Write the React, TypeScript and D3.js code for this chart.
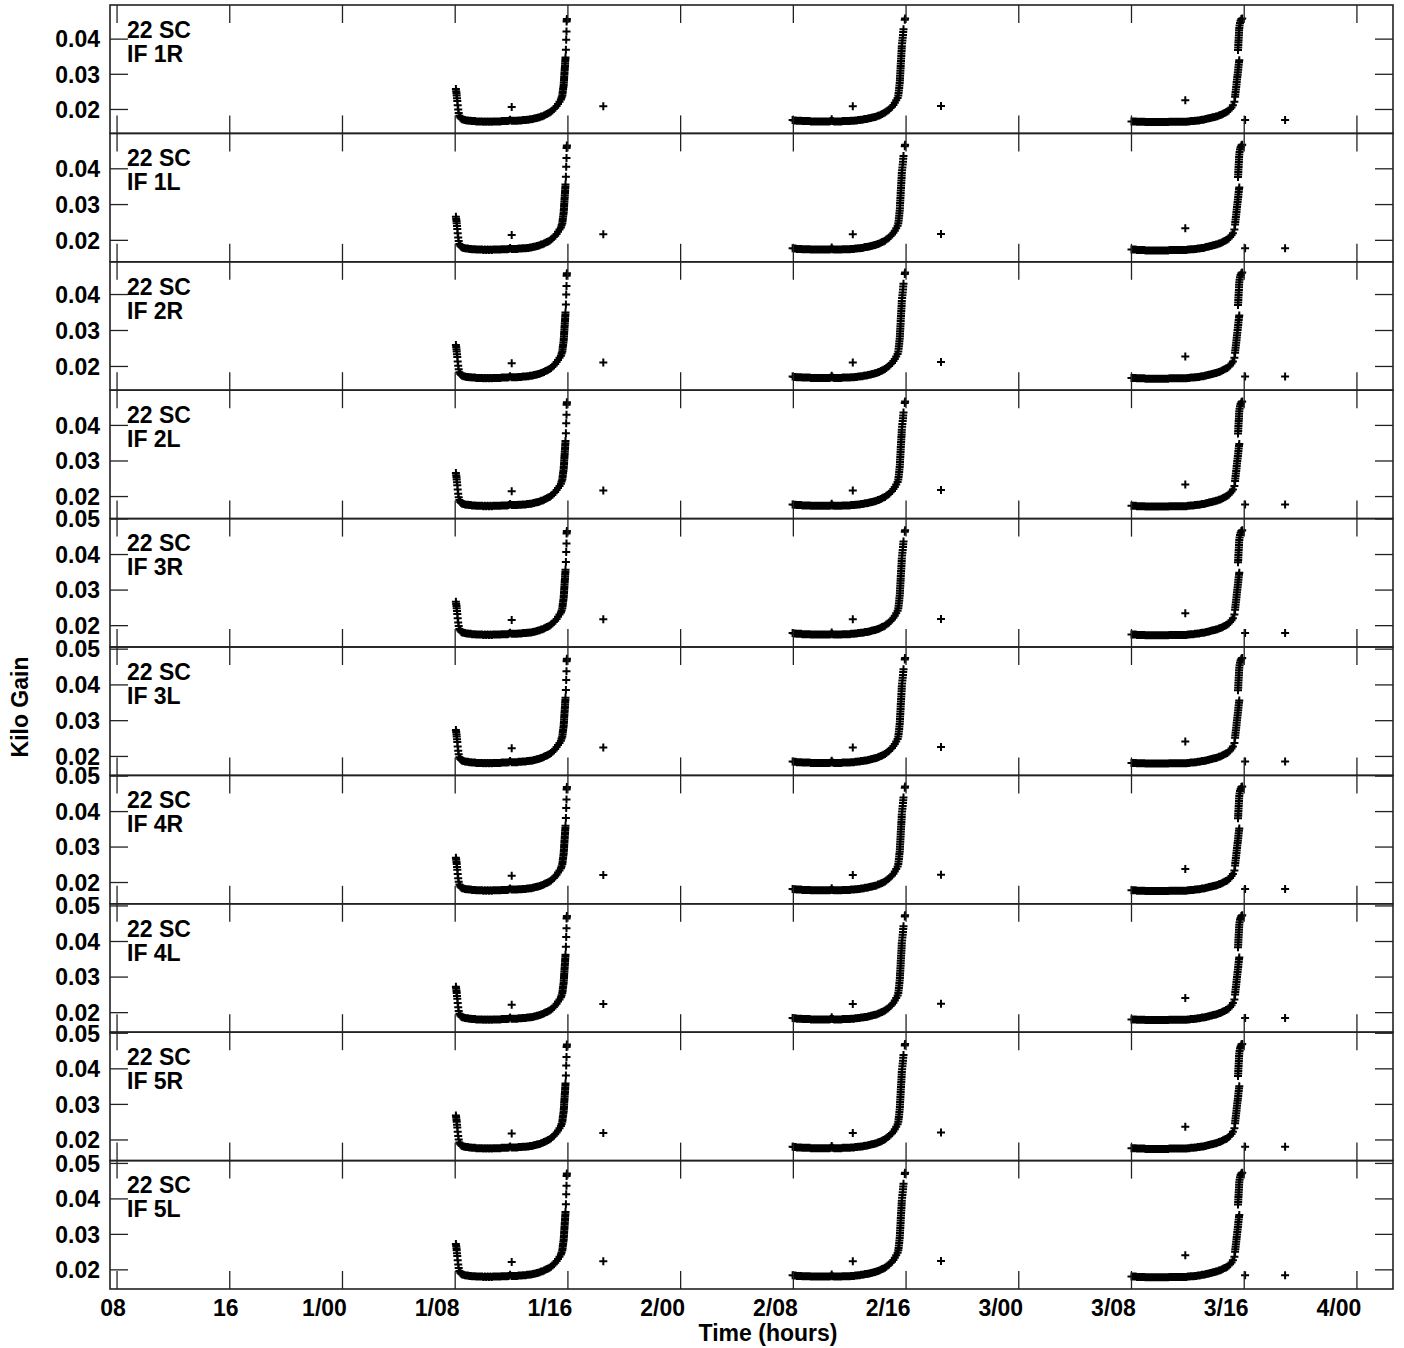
import React from 'react';
import * as d3 from 'd3';

const W = 1404;
const H = 1348;

const antennaLabel = '22 SC';
const panelLabels = ['IF 1R', 'IF 1L', 'IF 2R', 'IF 2L', 'IF 3R', 'IF 3L', 'IF 4R', 'IF 4L', 'IF 5R', 'IF 5L'];
const yMins = [0.0132, 0.0140, 0.0134, 0.0138, 0.0140, 0.0147, 0.0140, 0.0145, 0.0142, 0.0146];
const yMaxs = [0.0497, 0.0499, 0.0491, 0.0499, 0.0501, 0.0506, 0.0502, 0.0506, 0.0503, 0.0508];
const panelOffsets = [0, 0.0008, 0.0002, 0.0008, 0.0009, 0.0016, 0.0012, 0.0015, 0.0011, 0.0015];
const yTickValues = [0.02, 0.03, 0.04, 0.05];
const xDomain = [7.5, 98.56];
const xTickHours = [8, 16, 24, 32, 40, 48, 56, 64, 72, 80, 88, 96];
const xTickLabels = ['08', '16', '1/00', '1/08', '1/16', '2/00', '2/08', '2/16', '3/00', '3/08', '3/16', '4/00'];

// [hours, gain]
const seg1: [number, number][] = [
  [32.05, 0.0258], [32.07, 0.0252], [32.09, 0.0246], [32.11, 0.0240], [32.13, 0.0232], [32.15, 0.0224], [32.18, 0.0212],
  [32.21, 0.0200], [32.25, 0.0190], [32.30, 0.0182], [32.36, 0.0177], [32.43, 0.0174], [32.50, 0.0172], [32.6, 0.0171],
  [32.7, 0.0170], [32.8, 0.0169], [32.9, 0.0169], [33.0, 0.0168], [33.1, 0.0168], [33.2, 0.0167], [33.3, 0.0167],
  [33.4, 0.0167], [33.5, 0.0166], [33.6, 0.0166], [33.7, 0.0166], [33.8, 0.0166], [33.9, 0.0166], [34.0, 0.0165],
  [34.1, 0.0166], [34.2, 0.0165], [34.3, 0.0166], [34.4, 0.0165], [34.5, 0.0166], [34.6, 0.0165], [34.7, 0.0166],
  [34.8, 0.0166], [34.9, 0.0166], [35.0, 0.0166], [35.1, 0.0166], [35.2, 0.0166], [35.3, 0.0167], [35.4, 0.0167],
  [35.5, 0.0167], [35.6, 0.0167], [35.7, 0.0167], [35.8, 0.0168], [35.9, 0.0171], [36.0, 0.0168], [36.1, 0.0168],
  [36.2, 0.0168], [36.3, 0.0168], [36.4, 0.0168], [36.5, 0.0169], [36.6, 0.0169], [36.7, 0.0169], [36.8, 0.0170],
  [36.9, 0.0170], [37.0, 0.0170], [37.1, 0.0171], [37.2, 0.0171], [37.3, 0.0172], [37.4, 0.0172], [37.5, 0.0173],
  [37.6, 0.0174], [37.7, 0.0175], [37.8, 0.0176], [37.9, 0.0177], [38.0, 0.0178], [38.1, 0.0180], [38.2, 0.0181],
  [38.3, 0.0183], [38.4, 0.0185], [38.5, 0.0187], [38.6, 0.0189], [38.7, 0.0191], [38.8, 0.0194], [38.9, 0.0197],
  [39.0, 0.0201], [39.1, 0.0205], [39.2, 0.0210], [39.3, 0.0216], [39.4, 0.0222], [39.5, 0.0228], [39.55, 0.0234],
  [39.6, 0.0240], [39.62, 0.0246], [39.64, 0.0252], [39.66, 0.0258], [39.68, 0.0264], [39.70, 0.0270], [39.71, 0.0276],
  [39.72, 0.0282], [39.73, 0.0288], [39.74, 0.0294], [39.75, 0.0300], [39.76, 0.0306], [39.77, 0.0312], [39.78, 0.0318],
  [39.79, 0.0324], [39.80, 0.0330], [39.81, 0.0336], [39.82, 0.0342], [39.83, 0.0348], [39.86, 0.0370], [39.88, 0.0398],
  [39.90, 0.0422], [39.91, 0.0450], [39.92, 0.0454], [39.93, 0.0457],
];

const seg2: [number, number][] = [
  [55.95, 0.0170], [56.05, 0.0169], [56.15, 0.0169], [56.25, 0.0168], [56.35, 0.0168], [56.45, 0.0168], [56.55, 0.0168],
  [56.65, 0.0167], [56.75, 0.0167], [56.85, 0.0167], [56.95, 0.0167], [57.05, 0.0167], [57.15, 0.0167], [57.25, 0.0166],
  [57.35, 0.0166], [57.45, 0.0166], [57.55, 0.0166], [57.65, 0.0166], [57.75, 0.0166], [57.85, 0.0166], [57.95, 0.0166],
  [58.05, 0.0166], [58.15, 0.0166], [58.25, 0.0166], [58.35, 0.0166], [58.45, 0.0166], [58.55, 0.0166], [58.65, 0.0167],
  [58.72, 0.0172], [58.80, 0.0167], [58.90, 0.0166], [59.00, 0.0166], [59.10, 0.0166], [59.20, 0.0166], [59.30, 0.0166],
  [59.40, 0.0166], [59.50, 0.0167], [59.60, 0.0167], [59.70, 0.0167], [59.80, 0.0167], [59.90, 0.0167], [60.00, 0.0167],
  [60.10, 0.0168], [60.20, 0.0168], [60.30, 0.0168], [60.40, 0.0169], [60.50, 0.0169], [60.60, 0.0170], [60.70, 0.0170],
  [60.80, 0.0171], [60.90, 0.0171], [61.00, 0.0172], [61.10, 0.0173], [61.20, 0.0173], [61.30, 0.0174], [61.40, 0.0175],
  [61.50, 0.0176], [61.60, 0.0177], [61.70, 0.0178], [61.80, 0.0179], [61.90, 0.0180], [62.00, 0.0182], [62.10, 0.0183],
  [62.20, 0.0185], [62.30, 0.0187], [62.40, 0.0189], [62.50, 0.0191], [62.60, 0.0194], [62.70, 0.0197], [62.80, 0.0200],
  [62.90, 0.0204], [63.00, 0.0208], [63.10, 0.0213], [63.20, 0.0219], [63.30, 0.0226], [63.40, 0.0233], [63.45, 0.0240],
  [63.47, 0.0247], [63.49, 0.0254], [63.51, 0.0261], [63.53, 0.0268], [63.55, 0.0275], [63.56, 0.0282], [63.57, 0.0289],
  [63.58, 0.0296], [63.59, 0.0303], [63.60, 0.0310], [63.61, 0.0317], [63.62, 0.0324], [63.63, 0.0331], [63.64, 0.0338],
  [63.65, 0.0345], [63.66, 0.0352], [63.67, 0.0359], [63.68, 0.0366], [63.69, 0.0373], [63.70, 0.0380], [63.72, 0.0388],
  [63.74, 0.0396], [63.76, 0.0404], [63.78, 0.0412], [63.80, 0.0420], [63.82, 0.0428], [63.91, 0.0455], [63.93, 0.0459],
];

const seg3: [number, number][] = [
  [80.00, 0.0166], [80.10, 0.0166], [80.20, 0.0166], [80.30, 0.0166], [80.40, 0.0165], [80.50, 0.0165], [80.60, 0.0165],
  [80.70, 0.0165], [80.80, 0.0165], [80.90, 0.0165], [81.00, 0.0164], [81.10, 0.0164], [81.20, 0.0164], [81.30, 0.0164],
  [81.40, 0.0164], [81.50, 0.0164], [81.60, 0.0164], [81.70, 0.0164], [81.80, 0.0164], [81.90, 0.0164], [82.00, 0.0164],
  [82.10, 0.0164], [82.20, 0.0164], [82.30, 0.0164], [82.40, 0.0164], [82.50, 0.0164], [82.60, 0.0164], [82.70, 0.0165],
  [82.80, 0.0165], [82.90, 0.0165], [83.00, 0.0165], [83.10, 0.0165], [83.20, 0.0165], [83.30, 0.0165], [83.40, 0.0165],
  [83.50, 0.0165], [83.60, 0.0165], [83.70, 0.0165], [83.80, 0.0165], [83.90, 0.0165], [84.00, 0.0166], [84.10, 0.0166],
  [84.20, 0.0167], [84.30, 0.0167], [84.40, 0.0167], [84.50, 0.0168], [84.60, 0.0168], [84.70, 0.0169], [84.80, 0.0169],
  [84.90, 0.0170], [85.00, 0.0171], [85.10, 0.0171], [85.20, 0.0172], [85.30, 0.0173], [85.40, 0.0174], [85.50, 0.0175],
  [85.60, 0.0176], [85.70, 0.0177], [85.80, 0.0178], [85.90, 0.0179], [86.00, 0.0180], [86.10, 0.0181], [86.20, 0.0183],
  [86.30, 0.0184], [86.40, 0.0186], [86.50, 0.0188], [86.60, 0.0190], [86.70, 0.0192], [86.80, 0.0194], [86.90, 0.0197],
  [87.00, 0.0201], [87.10, 0.0206], [87.20, 0.0212], [87.30, 0.0222], [87.35, 0.0236], [87.37, 0.0243], [87.39, 0.0250],
  [87.41, 0.0257], [87.43, 0.0264], [87.45, 0.0271], [87.47, 0.0278], [87.49, 0.0285], [87.51, 0.0292], [87.53, 0.0299],
  [87.55, 0.0306], [87.57, 0.0313], [87.59, 0.0320], [87.61, 0.0327], [87.63, 0.0334], [87.65, 0.0340], [87.56, 0.0369],
  [87.57, 0.0376], [87.58, 0.0383], [87.59, 0.0390], [87.60, 0.0397], [87.61, 0.0404], [87.62, 0.0411], [87.63, 0.0418],
  [87.64, 0.0425], [87.65, 0.0432], [87.67, 0.0439], [87.70, 0.0446], [87.74, 0.0452], [87.80, 0.0457], [87.86, 0.0459],
];

const isolatedPoints: [number, number][] = [
  [36.01, 0.0207], [42.51, 0.0209], [60.22, 0.0209], [66.48, 0.0210], [83.82, 0.0226], [88.06, 0.0170], [90.90, 0.0170],
];

const FONT = "'Liberation Sans', Arial, Helvetica, sans-serif";

export default function App() {
  const left = 110;
  const right = 1393;
  const top = 5;
  const bottom = 1289;
  const n = panelLabels.length;
  const ph = (bottom - top) / n;
  const tickLen = 18;
  const x = d3.scaleLinear().domain(xDomain).range([left, right]);
  const allPts = [...seg1, ...seg2, ...seg3, ...isolatedPoints];
  const axisColor = '#222';

  return (
    <svg
      width={W}
      height={H}
      style={{ position: 'absolute', left: 0, top: 0, background: '#fff' }}
      fontFamily={FONT}
      fontWeight="bold"
    >
      <rect width={W} height={H} fill="#fff" />
      {panelLabels.map((lab, i) => {
        const y0 = top + i * ph;
        const y1 = y0 + ph;
        const y = d3.scaleLinear().domain([yMins[i], yMaxs[i]]).range([y1, y0]);
        const ticks = yTickValues.filter((v) => v >= yMins[i] && v <= yMaxs[i]);
        const off = panelOffsets[i];
        let d = '';
        for (const [t, v] of allPts) {
          const px = x(t);
          const py = y(v + off);
          d += `M${(px - 4).toFixed(1)},${py.toFixed(1)}H${(px + 4).toFixed(1)}M${px.toFixed(1)},${(py - 4).toFixed(1)}V${(py + 4).toFixed(1)}`;
        }
        return (
          <g key={lab}>
            <path d={d} stroke="#000" strokeWidth={2} fill="none" />
            <rect x={left} y={y0} width={right - left} height={ph} fill="none" stroke={axisColor} strokeWidth={1.6} />
            {xTickHours.map((h) => (
              <g key={h} stroke={axisColor} strokeWidth={1.3}>
                <line x1={x(h)} x2={x(h)} y1={y0} y2={y0 + tickLen} />
                <line x1={x(h)} x2={x(h)} y1={y1 - tickLen} y2={y1} />
              </g>
            ))}
            {ticks.map((v) => (
              <g key={v}>
                <line x1={left} x2={left + tickLen} y1={y(v)} y2={y(v)} stroke={axisColor} strokeWidth={1.3} />
                <line x1={right - tickLen} x2={right} y1={y(v)} y2={y(v)} stroke={axisColor} strokeWidth={1.3} />
                <text x={100} y={y(v)} dy="0.36em" textAnchor="end" fontSize={23} fill="#000">
                  {v.toFixed(2)}
                </text>
              </g>
            ))}
            <text x={127} y={y0 + 32.7} fontSize={23} fill="#000">
              {antennaLabel}
            </text>
            <text x={127} y={y0 + 56.7} fontSize={23} fill="#000">
              {lab}
            </text>
          </g>
        );
      })}
      {xTickHours.map((h, k) => (
        <text
          key={h}
          x={x(h) + (h < 24 ? -4 : -18)}
          y={1316}
          textAnchor="middle"
          fontSize={23}
          fill="#000"
        >
          {xTickLabels[k]}
        </text>
      ))}
      <text x={768} y={1341} textAnchor="middle" fontSize={23} fill="#000">
        Time (hours)
      </text>
      <text transform="translate(28,707) rotate(-90)" textAnchor="middle" fontSize={23} fill="#000">
        Kilo Gain
      </text>
    </svg>
  );
}
